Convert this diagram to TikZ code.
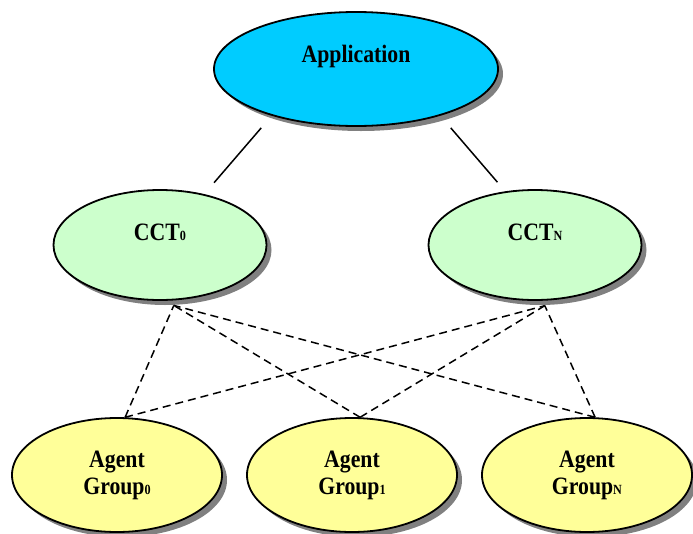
\documentclass[tikz,border=0pt]{standalone}
\usepackage{fontspec}
\setmainfont{Liberation Serif}[FakeStretch=0.87]
\usetikzlibrary{shapes.geometric,shadows}

\definecolor{appblue}{RGB}{0,204,255}
\definecolor{cctgreen}{RGB}{204,255,204}
\definecolor{agentyellow}{RGB}{255,255,153}

% small index set on the baseline
\newcommand{\idx}[1]{{\fontsize{14}{14}\selectfont #1}}

\tikzset{%
  % Specifications for style of nodes:
         base/.style      = { ellipse, draw = black, line width=1.8pt, inner sep=0pt,
                              drop shadow={shadow xshift=5pt, shadow yshift=-5pt, fill=black!50, opacity=1} },
         appnode/.style   = { base, fill=appblue, minimum width=284pt, minimum height=114pt },
         cctnode/.style   = { base, fill=cctgreen, minimum width=213pt, minimum height=110pt },
         agentnode/.style = { base, fill=agentyellow, minimum width=210pt, minimum height=114pt },
         title/.style     = { font=\fontsize{25}{27}\selectfont\bfseries, align=center },
  % Specifications for style of lines:
         link/.style      = { line width=1.5pt },
         share/.style     = { line width=1.5pt, dash pattern=on 8pt off 5pt },
}

\begin{document}
\begin{tikzpicture}[x=1pt, y=-1pt]
    \useasboundingbox (0,0) rectangle (693,533);

    % Draw nodes
    \node (app)      [appnode]          at (356,69)  {};
    \node (cct_0)    [cctnode]          at (160,245) {};
    \node (cct_n)    [cctnode]          at (535,245) {};
    \node (agent_0)  [agentnode, title] at (117,475) {Agent\\Group\idx{0}};
    \node (agent_1)  [agentnode, title] at (352,475) {Agent\\Group\idx{1}};
    \node (agent_n)  [agentnode, title] at (587,475) {Agent\\Group\idx{N}};

    % Labels sit a bit above the centre
    \node (app_label)   [title] at ([yshift=13pt]app.center)   {Application};
    \node (cct_0_label) [title] at ([yshift=13pt]cct_0.center) {CCT\idx{0}};
    \node (cct_n_label) [title] at ([yshift=13pt]cct_n.center) {CCT\idx{N}};

    % Feet of the dashed lines, just under the CCT nodes
    \coordinate (cct_0_foot) at ([yshift=-5pt]cct_0.-76);
    \coordinate (cct_n_foot) at ([yshift=-5pt]cct_n.-80);

    % Draw lines
    \draw[link, shorten <=16pt, shorten >=15pt] (app.209) -- (cct_0.49);
    \draw[link, shorten <=16pt, shorten >=12pt] (app.331) -- (cct_n.119);

    \draw[share] (agent_0.82) -- (cct_0_foot);
    \draw[share] (agent_0.82) -- (cct_n_foot);
    \draw[share] (agent_1.82) -- (cct_0_foot);
    \draw[share] (agent_1.82) -- (cct_n_foot);
    \draw[share] (agent_n.82) -- (cct_0_foot);
    \draw[share] (agent_n.82) -- (cct_n_foot);
\end{tikzpicture}
\end{document}
